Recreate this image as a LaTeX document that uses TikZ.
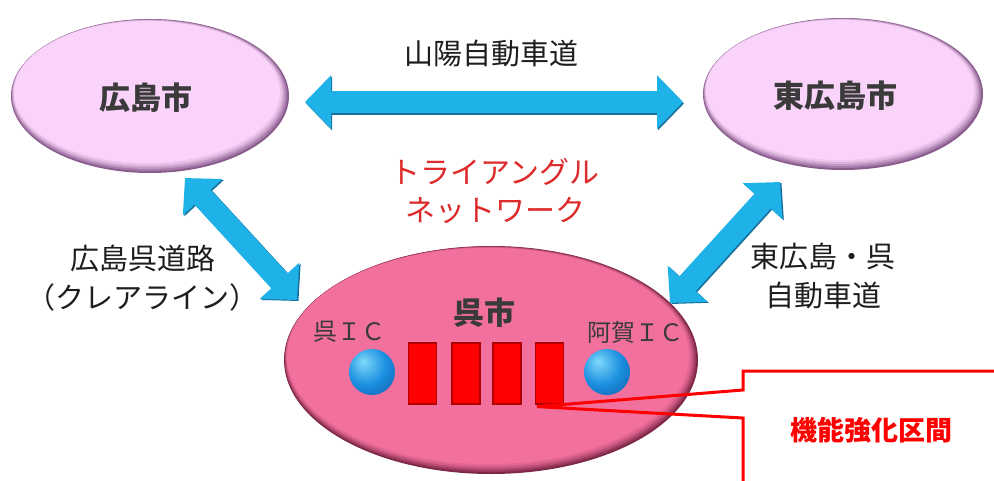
\documentclass[tikz,border=0pt]{standalone}
\usepackage{fontspec}
\setmainfont{Noto Sans CJK JP}
\usetikzlibrary{shapes.geometric,arrows.meta,calc}
\definecolor{lightL}{HTML}{F9D3F9}
\definecolor{lightD}{HTML}{8A5C8E}
\definecolor{pinkL}{HTML}{F2709E}
\definecolor{pinkD}{HTML}{7E2848}
\definecolor{ballL}{HTML}{7FDAFA}
\definecolor{ballM}{HTML}{1C8FE0}
\definecolor{ballD}{HTML}{0A4690}
\definecolor{arrowC}{HTML}{1EB2E8}
\definecolor{arrowD}{HTML}{17719C}
\definecolor{txt}{HTML}{1E1E1E}
\definecolor{city}{HTML}{3A3A3A}
\definecolor{netred}{HTML}{DD2A2A}
\definecolor{barred}{HTML}{FF0000}
\definecolor{bardark}{HTML}{B00000}
\pgfdeclareradialshading{bball}{\pgfpoint{-10bp}{12bp}}{color(0bp)=(ballL); color(22bp)=(ballM); color(52bp)=(ballD); color(70bp)=(ballD)}
% #1 node name, #2 x radius, #3 y radius, #4 light colour, #5 dark colour
\newcommand\cityrim[5]{%
  \fill[#4!25!#5] ($(#1.center)+(-0.6,-0.8)$) ellipse [x radius=#2-1.2, y radius=#3-1.2];
  \fill[#4!50!#5] ($(#1.center)+(-1.2,-1.6)$) ellipse [x radius=#2-2.4, y radius=#3-2.4];
  \fill[#4!72!#5] ($(#1.center)+(-1.8,-2.4)$) ellipse [x radius=#2-3.6, y radius=#3-3.6];
  \fill[#4!88!#5] ($(#1.center)+(-2.4,-3.2)$) ellipse [x radius=#2-4.8, y radius=#3-4.8];
  \fill[#4] ($(#1.center)+(-3,-4)$) ellipse [x radius=#2-6, y radius=#3-6];
}
\tikzset{
  lightcity/.style={ellipse, inner sep=0pt, fill=lightD},
  kurecity/.style={ellipse, inner sep=0pt, fill=pinkD},
  citytext/.style={font=\fontsize{31pt}{36pt}\selectfont\bfseries, text=city, inner sep=0pt},
  roadlabel/.style={font=\fontsize{29pt}{38.5pt}\selectfont, text=txt, align=center, inner sep=0pt},
  netlabel/.style={font=\fontsize{30pt}{38pt}\selectfont, text=netred, align=center, inner sep=0pt},
  iclabel/.style={font=\fontsize{24pt}{28pt}\selectfont, text=city, inner sep=0pt},
  callouttext/.style={font=\fontsize{27pt}{30pt}\selectfont\bfseries, text=barred, inner sep=0pt},
  fatarrow/.style={draw=arrowC, line width=22pt, {Triangle[width=52pt,length=26pt]}-{Triangle[width=52pt,length=26pt]}},
  fatshadow/.style={draw=arrowD, line width=22pt, {Triangle[width=52pt,length=26pt]}-{Triangle[width=52pt,length=26pt]}},
  icball/.style={circle, minimum size=46pt, inner sep=0pt, shading=bball},
  bar/.style={rectangle, minimum width=28pt, minimum height=61pt, inner sep=0pt, fill=barred, draw=bardark, line width=1.2pt},
  callout/.style={draw=barred, line width=3pt, line join=miter}
}
\begin{document}
\begin{tikzpicture}[x=1pt,y=-1pt]
\useasboundingbox (0,0) rectangle (994,480);
\clip (0,0) rectangle (994,480);
\fill[white] (0,0) rectangle (994,480);

% cities
\node[lightcity, minimum width=278pt, minimum height=154pt] (hiro) at (150,96) {};
\cityrim{hiro}{139}{77}{lightL}{lightD}
\node[citytext] (hirot) at (146,98) {広島市};
\node[lightcity, minimum width=280pt, minimum height=152pt] (higa) at (843,94) {};
\cityrim{higa}{140}{76}{lightL}{lightD}
\node[citytext] (higat) at (835,96) {東広島市};
\node[kurecity, minimum width=414pt, minimum height=228pt] (kure) at (491,360) {};
\cityrim{kure}{207}{114}{pinkL}{pinkD}
\node[citytext] (kuret) at (484,313) {呉市};

% arrow end points
\coordinate (a1) at (305,102);
\coordinate (a2) at (683,102);
\coordinate (b1) at (185,178);
\coordinate (b2) at (297,300);
\coordinate (c1) at (780,182);
\coordinate (c2) at (670,303);

\draw[fatshadow] ($(a1)+(1,1.5)$) -- ($(a2)+(1,1.5)$);
\draw[fatarrow] (a1) -- (a2);
\draw[fatshadow] ($(b1)+(1.5,1)$) -- ($(b2)+(1.5,1)$);
\draw[fatarrow] (b1) -- (b2);
\draw[fatshadow] ($(c1)+(1.5,1)$) -- ($(c2)+(1.5,1)$);
\draw[fatarrow] (c1) -- (c2);

% labels
\node[roadlabel] (sanyo) at (491,54) {山陽自動車道};
\node[netlabel] (tri) at (495,191) {トライアングル\\ネットワーク};
\node[roadlabel] (kurerd) at (143,278) {広島呉道路\\（クレアライン）};
\node[roadlabel] (higakure) at (823,276) {東広島・呉\\自動車道};

% inside Kure
\node[iclabel] (icl) at (349,332) {呉ＩＣ};
\node[iclabel] (icr) at (635,332) {阿賀ＩＣ};
\node[icball] (bl) at (372,372) {};
\node[icball] (br) at (607,372) {};
\node[bar] (r1) at (422.5,373.5) {};
\node[bar] (r2) at (466,373.5) {};
\node[bar] (r3) at (507,373.5) {};
\node[bar] (r4) at (549.5,373.5) {};

% callout
\coordinate (tip) at ($(r4.south west)+(2,2)$);
\draw[callout] (743,490) -- (743,418) -- (tip) -- (743,390) -- (743,371) -- (1000,371);
\node[callouttext] (ct) at (871,430) {機能強化区間};
\end{tikzpicture}
\end{document}
